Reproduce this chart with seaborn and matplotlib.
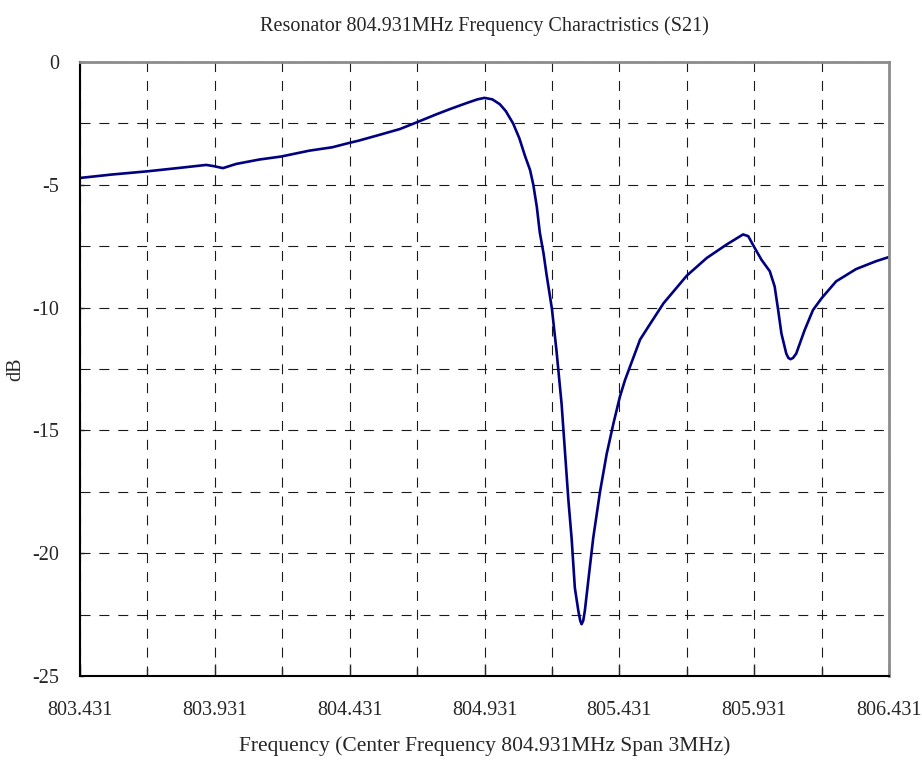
import numpy as np
import pandas as pd
import seaborn as sns
import matplotlib.pyplot as plt
from matplotlib.ticker import FixedLocator, FixedFormatter

# S21 trace (MHz, dB)
freq = [803.431, 803.55, 803.681, 803.80, 803.899, 803.927, 803.961, 804.01,
        804.096, 804.176, 804.281, 804.367, 804.427, 804.465, 804.54, 804.617,
        804.681, 804.75, 804.802, 804.87, 804.905, 804.931, 804.96, 804.988, 805.01,
        805.037, 805.06, 805.081, 805.10, 805.112, 805.125, 805.136, 805.15,
        805.161, 805.181, 805.198, 805.217, 805.229, 805.242, 805.254, 805.266,
        805.279, 805.286, 805.291, 805.297, 805.303, 805.316, 805.334, 805.359, 805.384, 805.409,
        805.433, 805.452, 805.471, 805.508, 805.546, 805.595, 805.681, 805.755, 805.829,
        805.875, 805.890, 805.909, 805.933, 805.958, 805.989, 806.007, 806.02, 806.032,
        806.05, 806.058, 806.066, 806.075, 806.087, 806.118, 806.149, 806.181, 806.235, 806.309,
        806.383, 806.431]
s21 = [-4.72, -4.58, -4.45, -4.31, -4.19, -4.24, -4.32, -4.15,
       -3.97, -3.85, -3.61, -3.47, -3.30, -3.20, -2.97, -2.73,
       -2.45, -2.14, -1.92, -1.65, -1.52, -1.46, -1.52, -1.72, -2.0,
       -2.5, -3.1, -3.82, -4.4, -5.0, -5.9, -6.94, -7.8,
       -8.65, -10.05, -11.76, -13.94, -15.81, -17.83, -19.39, -21.41,
       -22.35, -22.75, -22.89, -22.75, -22.35, -21.1, -19.39, -17.52, -15.96, -14.72,
       -13.63, -12.95, -12.39, -11.3, -10.65, -9.82, -8.70, -7.98, -7.43,
       -7.12, -7.02, -7.09, -7.57, -8.05, -8.52, -9.14, -10.1, -11.05,
       -11.87, -12.05, -12.1, -12.05, -11.87, -10.92, -10.1, -9.62, -8.93, -8.43,
       -8.11, -7.94]

x_ticks = [803.431, 803.931, 804.431, 804.931, 805.431, 805.931, 806.431]
x_labels = ['803.431', '803.931', '804.431', '804.931', '805.431', '805.931', '806.431']
x_minor = [803.681, 804.181, 804.681, 805.181, 805.681, 806.181]
y_ticks = [-25, -20, -15, -10, -5, 0]
y_minor = [-22.5, -17.5, -12.5, -7.5, -2.5]

df = pd.DataFrame({'Frequency': freq, 'dB': s21})

sns.set_style('white')
plt.rcParams['font.family'] = ['Liberation Serif', 'DejaVu Serif']
plt.rcParams['axes.unicode_minus'] = False

fig = plt.figure(figsize=(9.22, 7.6), dpi=100)
ax = fig.add_axes([0.0868, 0.1105, 0.8774, 0.8079])

sns.lineplot(data=df, x='Frequency', y='dB', ax=ax, color='#000080',
             linewidth=1.9, sort=False, estimator=None)

ax.set_xlim(803.431, 806.431)
ax.set_ylim(-25, 0)
ax.xaxis.set_major_locator(FixedLocator(x_ticks))
ax.xaxis.set_major_formatter(FixedFormatter(x_labels))
ax.xaxis.set_minor_locator(FixedLocator(x_minor))
ax.yaxis.set_major_locator(FixedLocator(y_ticks))
ax.yaxis.set_minor_locator(FixedLocator(y_minor))

ax.grid(True, which='both', color='#1a1a1a', linestyle=(0, (9, 8)), linewidth=0.8)
ax.tick_params(axis='x', which='major', direction='in', length=9, width=1,
               labelsize=14.5, pad=18, bottom=True)
ax.tick_params(axis='x', which='minor', direction='in', length=6, width=1, bottom=True)
ax.tick_params(axis='y', which='major', direction='in', length=3, width=1,
               labelsize=14.5, pad=15, left=True)
ax.tick_params(axis='y', which='minor', left=False)

for side in ['left', 'bottom']:
    ax.spines[side].set_color('black')
    ax.spines[side].set_linewidth(1.5)
for side in ['top', 'right']:
    ax.spines[side].set_color('#8c8c8c')
    ax.spines[side].set_linewidth(2)

ax.set_title('Resonator 804.931MHz Frequency Charactristics (S21)', fontsize=14.5, pad=22)
ax.set_xlabel('Frequency (Center Frequency 804.931MHz Span 3MHz)', fontsize=15.5, labelpad=12)
ax.set_ylabel('dB', fontsize=14.5)
ax.yaxis.set_label_coords(-0.068, 0.5)

fig.savefig('out.png', dpi=100)
